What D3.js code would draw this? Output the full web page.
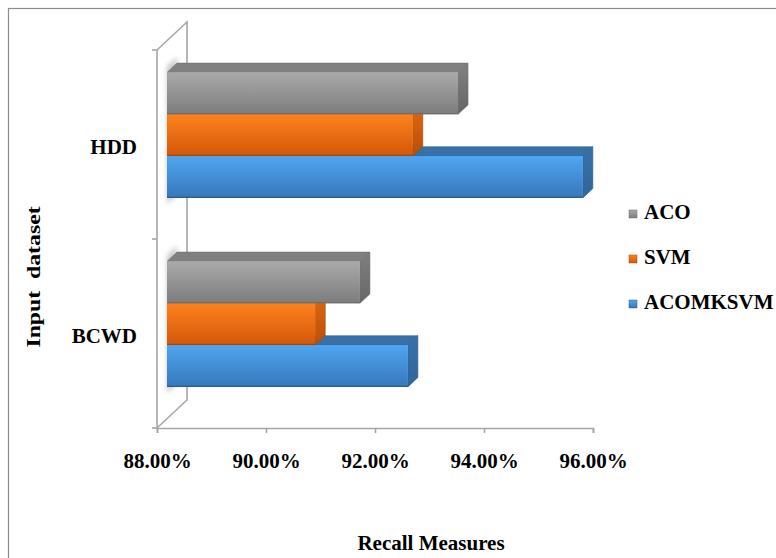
<!DOCTYPE html>
<html>
<head>
<meta charset="utf-8">
<script src="https://cdn.jsdelivr.net/npm/d3@7"></script>
<style>
  html, body { margin: 0; padding: 0; background: #fff; }
  svg { display: block; }
</style>
</head>
<body>
<svg id="chart" width="776" height="558"></svg>
<script>
// Recall per dataset and method (percent)
const categories = ["HDD", "BCWD"];
const seriesNames = ["ACO", "SVM", "ACOMKSVM"];
const acoValues = [93.34, 91.54];
const svmValues = [92.51, 90.72];
const acomksvmValues = [95.63, 92.42];
const tickValues = [88, 90, 92, 94, 96];

const seriesValues = { ACO: acoValues, SVM: svmValues, ACOMKSVM: acomksvmValues };

const palette = {
  ACO:      { top: "#aaaaaa", bottom: "#7c7c7c", lid: "#808080", side: "#666666", edge: "#6e6e6e" },
  SVM:      { top: "#ff821c", bottom: "#d2570a", lid: "#e0680f", side: "#b84f08", edge: "#a84606" },
  ACOMKSVM: { top: "#4ea6f0", bottom: "#3877bb", lid: "#3870a8", side: "#2f679c", edge: "#2b5c8e" }
};

const FONT = "'Liberation Serif', 'Times New Roman', Times, serif";
const styleText = sel => sel.style("font-family", FONT).style("font-weight", "bold").style("fill", "#000");

const svg = d3.select("#chart");
const defs = svg.append("defs");

// vertical gradients for the front faces and end faces
Object.entries(palette).forEach(([k, c]) => {
  const g = defs.append("linearGradient").attr("id", "grad-" + k)
    .attr("x1", 0).attr("y1", 0).attr("x2", 0).attr("y2", 1);
  g.append("stop").attr("offset", "0%").attr("stop-color", c.top);
  g.append("stop").attr("offset", "100%").attr("stop-color", c.bottom);
  const s = defs.append("linearGradient").attr("id", "side-" + k)
    .attr("x1", 0).attr("y1", 0).attr("x2", 0).attr("y2", 1);
  s.append("stop").attr("offset", "0%").attr("stop-color", c.lid);
  s.append("stop").attr("offset", "100%").attr("stop-color", c.side);
});
defs.append("filter").attr("id", "soft").attr("x", "-50%").attr("y", "-50%").attr("width", "200%").attr("height", "200%")
  .append("feGaussianBlur").attr("stdDeviation", 2.5);

// outer frame
svg.append("rect").attr("x", 8.5).attr("y", 8.5).attr("width", 800).attr("height", 600)
  .attr("fill", "#fff").attr("stroke", "#8c8c8c").attr("stroke-width", 1.2);

// scales (front plane of the 3-D box)
const x = d3.scaleLinear().domain([88, 96]).range([157, 593]);
const y0 = d3.scaleBand().domain(categories).range([50, 428]);
const y1 = d3.scaleBand().domain(seriesNames).range([0, y0.bandwidth()])
  .paddingInner(0).paddingOuter(0.76);

// depth of the box and of the bars inside it
const DX = 30, DY = 28;
const fFront = 1 / 3, fBack = 2 / 3;
const P = (v, yy, f) => [x(v) + DX * f, yy - DY * f];
const pts = arr => arr.map(p => p.join(",")).join(" ");

const axisColor = "#a6a6a6";

// side wall
const x0 = x.domain()[0];
svg.append("polygon")
  .attr("points", pts([P(x0, 50, 0), P(x0, 50, 1), P(x0, 428, 1), P(x0, 428, 0)]))
  .attr("fill", "none").attr("stroke", axisColor).attr("stroke-width", 1.6);

// category ticks on the wall edge
const boundaries = categories.map(c => y0(c)).concat([y0.range()[1]]);
svg.append("g").selectAll("line").data(boundaries).join("line")
  .attr("x1", x(x0) - 5).attr("x2", x(x0)).attr("y1", d => d).attr("y2", d => d)
  .attr("stroke", axisColor).attr("stroke-width", 1.6);

// value axis
const xAxis = d3.axisBottom(x).tickValues(tickValues)
  .tickFormat(d => d.toFixed(2) + "%").tickSize(5).tickPadding(20);
const gx = svg.append("g").attr("transform", "translate(0,428)").call(xAxis);
gx.select(".domain").attr("stroke", axisColor).attr("stroke-width", 1.6);
gx.selectAll(".tick line").attr("stroke", axisColor).attr("stroke-width", 1.6);
gx.selectAll(".tick text").call(styleText).style("font-size", "21px");

// category axis labels
const yAxis = d3.axisLeft(y0).tickSize(0).tickPadding(20);
const gy = svg.append("g").attr("transform", "translate(" + x(x0) + ",0)").call(yAxis);
gy.select(".domain").remove();
gy.selectAll(".tick text").call(styleText).style("font-size", "21px").attr("dy", "0.45em");

// soft shadow on the wall behind each group
categories.forEach(c => {
  const top = y0(c) + y1(seriesNames[0]) - 6;
  const bot = y0(c) + y1(seriesNames[seriesNames.length - 1]) + y1.bandwidth() + 6;
  svg.append("polygon")
    .attr("points", pts([P(x0, top, fFront), P(x0, top, fBack), P(x0, bot, fBack), P(x0, bot, fFront)]))
    .attr("fill", "#9a9a9a").attr("opacity", 0.55).attr("filter", "url(#soft)");
});

// 3-D bars: lower bars drawn first so the ones above overlap their lids
const bars = svg.append("g");
categories.forEach((c, ci) => {
  seriesNames.slice().reverse().forEach(s => {
    const v = seriesValues[s][ci];
    const col = palette[s];
    const yt = y0(c) + y1(s), yb = yt + y1.bandwidth();
    const g = bars.append("g");
    // lid
    g.append("polygon")
      .attr("points", pts([P(x0, yt, fFront), P(x0, yt, fBack), P(v, yt, fBack), P(v, yt, fFront)]))
      .attr("fill", col.lid).attr("stroke", col.edge).attr("stroke-width", 0.6);
    // end face
    g.append("polygon")
      .attr("points", pts([P(v, yt, fFront), P(v, yt, fBack), P(v, yb, fBack), P(v, yb, fFront)]))
      .attr("fill", "url(#side-" + s + ")").attr("stroke", col.edge).attr("stroke-width", 0.6);
    // front face
    const [fx0, fy0] = P(x0, yt, fFront);
    const [fx1, fy1] = P(v, yb, fFront);
    g.append("rect").attr("x", fx0).attr("y", fy0).attr("width", fx1 - fx0).attr("height", fy1 - fy0)
      .attr("fill", "url(#grad-" + s + ")");
    g.append("line").attr("x1", fx0).attr("x2", fx1).attr("y1", fy0 + 0.8).attr("y2", fy0 + 0.8)
      .attr("stroke", col.top).attr("stroke-width", 1.5).attr("opacity", 0.9);
    g.append("line").attr("x1", fx0).attr("x2", fx1).attr("y1", fy1 - 0.6).attr("y2", fy1 - 0.6)
      .attr("stroke", col.edge).attr("stroke-width", 1.2);
  });
});

// legend
const legend = svg.append("g");
seriesNames.forEach((s, i) => {
  const ly = 214 + i * 45;
  legend.append("rect").attr("x", 629).attr("y", ly - 4).attr("width", 8).attr("height", 8)
    .attr("fill", "url(#grad-" + s + ")").attr("stroke", palette[s].edge).attr("stroke-width", 0.5);
  legend.append("text").attr("x", 644).attr("y", ly + 5).call(styleText).style("font-size", "21px").text(s);
});

// axis titles
svg.append("text").attr("x", 431).attr("y", 550).attr("text-anchor", "middle")
  .call(styleText).style("font-size", "21px").text("Recall Measures");
svg.append("text").attr("transform", "translate(40,277) rotate(-90) scale(1.25,1)")
  .attr("text-anchor", "middle").call(styleText).style("font-size", "19px")
  .style("white-space", "pre").text("Input  dataset");
</script>
</body>
</html>
